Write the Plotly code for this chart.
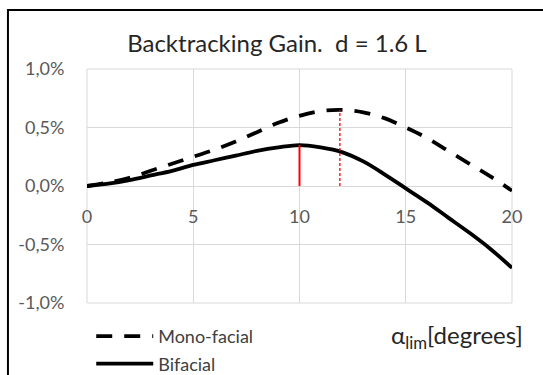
import plotly.graph_objects as go

# ---- data ----
alpha_deg = list(range(0, 21))
mono_facial = [0.00, 0.03, 0.07, 0.13, 0.19, 0.25, 0.31, 0.38, 0.46, 0.54, 0.60,
               0.64, 0.65, 0.63, 0.58, 0.50, 0.41, 0.30, 0.19, 0.08, -0.04]
bifacial = [0.00, 0.02, 0.05, 0.09, 0.13, 0.18, 0.22, 0.26, 0.30, 0.33, 0.35,
            0.33, 0.29, 0.21, 0.10, -0.02, -0.14, -0.27, -0.40, -0.54, -0.70]
series_names = ["Mono-facial", "Bifacial"]
bif_peak_x = [10, 10]
bif_peak_y = [0.0, 0.35]
mono_peak_x = [11.9, 11.9]
mono_peak_y = [0.0, 0.65]
x_ticks = [0, 5, 10, 15, 20]
y_ticks = [-1.0, -0.5, 0.0, 0.5, 1.0]
y_tick_labels = ["-1,0%", "-0,5%", "0,0%", "0,5%", "1,0%"]
title_text = "Backtracking Gain.  d = 1.6 L"

FONT = "Lato, 'Open Sans', sans-serif"

fig = go.Figure()
fig.add_trace(go.Scatter(x=alpha_deg, y=mono_facial, name=series_names[0], mode="lines",
                         line=dict(color="black", width=3.8, dash="16px,12px", shape="spline"),
                         legendgroup="a"))
fig.add_trace(go.Scatter(x=alpha_deg, y=bifacial, name=series_names[1], mode="lines",
                         line=dict(color="black", width=3.8, shape="spline"),
                         legendgroup="b"))
fig.add_trace(go.Scatter(x=bif_peak_x, y=bif_peak_y, mode="lines", showlegend=False,
                         line=dict(color="#ff0000", width=2)))
fig.add_trace(go.Scatter(x=mono_peak_x, y=mono_peak_y, mode="lines", showlegend=False,
                         line=dict(color="#ff0000", width=1.3, dash="3px,2px")))

fig.update_layout(
    width=543, height=375,
    margin=dict(l=87, r=31, t=69, b=72, autoexpand=False),
    paper_bgcolor="white", plot_bgcolor="white",
    font=dict(family=FONT, color="#595959"),
    title=dict(text=title_text, x=0.51, xanchor="center", y=0.885, yanchor="middle",
               font=dict(size=24, color="#262626", family=FONT)),
    showlegend=True,
    legend=dict(xref="container", yref="container", x=0.168, xanchor="left",
                y=0.152, yanchor="top", itemwidth=57,
                font=dict(size=18, color="#404040", family=FONT),
                bgcolor="rgba(0,0,0,0)", tracegroupgap=1, traceorder="grouped"),
    xaxis=dict(range=[0, 20], tickvals=x_ticks, showgrid=True, gridcolor="#d9d9d9",
               gridwidth=1, zeroline=False, showline=False, anchor="free", position=0.5,
               ticks="outside", ticklen=14, tickcolor="rgba(0,0,0,0)",
               tickfont=dict(size=18, color="#595959", family=FONT)),
    yaxis=dict(range=[-1.0, 1.0], tickvals=y_ticks, ticktext=y_tick_labels,
               showgrid=True, gridcolor="#d9d9d9", gridwidth=1, zeroline=False,
               ticks="outside", ticklen=18, tickcolor="rgba(0,0,0,0)",
               tickfont=dict(size=18, color="#595959", family=FONT)),
    shapes=[
        dict(type="rect", xref="paper", yref="paper", x0=0, x1=1, y0=0, y1=1,
             line=dict(color="#d9d9d9", width=1), layer="below"),
        dict(type="rect", xref="paper", yref="paper", x0=-0.186, x1=1.09, y0=-0.33, y1=1.252,
             line=dict(color="black", width=2)),
    ],
    annotations=[
        dict(text="α<sub>lim</sub>[degrees]", xref="paper", yref="paper", x=1.03, y=-0.145,
             xanchor="right", yanchor="middle", showarrow=False,
             font=dict(size=24, color="#262626", family=FONT)),
    ],
)

fig.write_html("out.html")
